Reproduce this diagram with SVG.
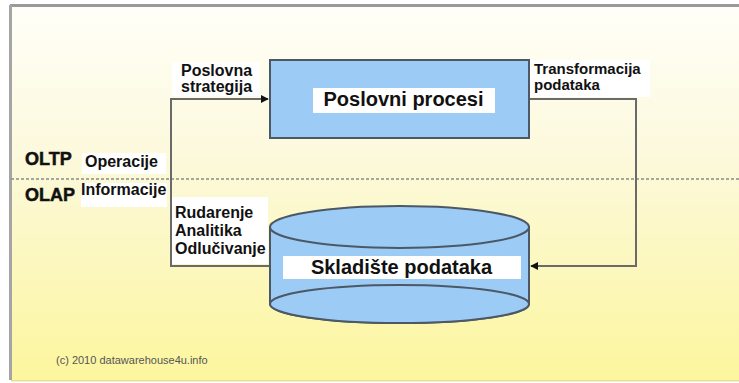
<svg xmlns="http://www.w3.org/2000/svg" width="739" height="383" viewBox="0 0 739 383">
<defs>
<linearGradient id="bg" x1="0" y1="0" x2="0" y2="1">
<stop offset="0" stop-color="#fffff8"/>
<stop offset="0.4" stop-color="#fcf9dc"/>
<stop offset="1" stop-color="#fcf69e"/>
</linearGradient>
<marker id="arr" viewBox="0 0 10 10" refX="9" refY="5" markerWidth="4" markerHeight="4" orient="auto" markerUnits="strokeWidth">
<path d="M0,0 L10,5 L0,10 z" fill="#111"/>
</marker>
<style>
.t{font-family:"Liberation Sans",Arial,sans-serif;font-weight:bold;fill:#111}
.lbl{font-size:16px}
.big{font-size:20px}
.bg{fill:#ffffff}
.shape{fill:#9ccbf6;stroke:#4d5866;stroke-width:2}
.conn{fill:none;stroke:#6a6a6a;stroke-width:2}
</style>
</defs>
<rect x="0" y="0" width="739" height="383" fill="#ffffff"/>
<rect x="11" y="7" width="728" height="373" fill="url(#bg)"/>
<rect x="10" y="4" width="729" height="3" fill="#9a9a9a"/>
<rect x="9" y="5" width="3" height="375" fill="#a5a5a5"/>
<rect x="11" y="380" width="728" height="1.5" fill="#e6df9a"/>

<line x1="11" y1="179" x2="739" y2="179" stroke="#8a8a8a" stroke-width="1.5" stroke-dasharray="3 2"/>

<g id="labels">
<rect class="bg" x="172" y="62" width="88" height="34"/>
<text class="t lbl" x="181" y="76">Poslovna</text>
<text class="t lbl" x="181" y="92">strategija</text>
<rect class="bg" x="530" y="60" width="120" height="37"/>
<text class="t" font-size="15" x="534" y="74">Transformacija</text>
<text class="t" font-size="15" x="534" y="90">podataka</text>
<text class="t" font-size="18" stroke="#111" stroke-width="0.5" x="25" y="165">OLTP</text>
<rect class="bg" x="82" y="153" width="84" height="21"/>
<text class="t lbl" x="85" y="167">Operacije</text>
<text class="t" font-size="18" stroke="#111" stroke-width="0.5" x="25" y="201">OLAP</text>
<rect class="bg" x="81" y="183" width="86" height="24"/>
<text class="t lbl" x="81" y="195">Informacije</text>
<rect class="bg" x="172" y="197" width="96" height="67"/>
<text class="t lbl" x="175" y="218">Rudarenje</text>
<text class="t lbl" x="175" y="236">Analitika</text>
<text class="t lbl" x="175" y="254">Odlučivanje</text>
<text x="56" y="364" font-family="Liberation Sans,Arial,sans-serif" font-size="11" fill="#555">(c) 2010 datawarehouse4u.info</text>
</g>

<g id="connectors">
<path class="conn" d="M270,266 L171,266 L171,99 L268,99" marker-end="url(#arr)"/>
<path class="conn" d="M529,99 L636,99 L636,266 L531,266" marker-end="url(#arr)"/>
</g>

<g id="poslovni-procesi">
<rect class="shape" x="270" y="60" width="259" height="78"/>
<rect class="bg" x="313" y="88" width="182" height="25"/>
<text class="t big" x="403.5" y="106" text-anchor="middle">Poslovni procesi</text>
</g>

<g id="skladiste-podataka">
<path class="shape" d="M270,227 L270,304 A129.5,19 0 0 0 529,304 L529,227 Z"/>
<ellipse class="shape" cx="399.5" cy="227" rx="129.5" ry="21"/>
<ellipse class="shape" cx="399.5" cy="304" rx="129.5" ry="19"/>
<rect class="bg" x="283" y="256" width="238" height="23"/>
<text class="t big" x="401.5" y="274" text-anchor="middle">Skladište podataka</text>
</g>
</svg>
